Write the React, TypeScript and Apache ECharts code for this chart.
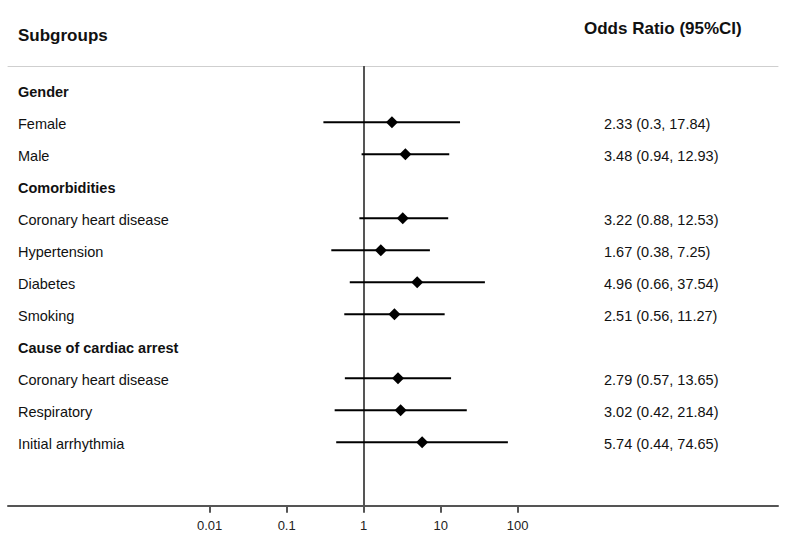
import React, { useEffect, useRef } from "react";
import * as echarts from "echarts";

const subgroups = [
  "Gender",
  "Female",
  "Male",
  "Comorbidities",
  "Coronary heart disease",
  "Hypertension",
  "Diabetes",
  "Smoking",
  "Cause of cardiac arrest",
  "Coronary heart disease",
  "Respiratory",
  "Initial arrhythmia",
];
const isHeader = [true, false, false, true, false, false, false, false, true, false, false, false];
const oddsRatio = [null, 2.33, 3.48, null, 3.22, 1.67, 4.96, 2.51, null, 2.79, 3.02, 5.74];
const lowerCI = [null, 0.3, 0.94, null, 0.88, 0.38, 0.66, 0.56, null, 0.57, 0.42, 0.44];
const upperCI = [null, 17.84, 12.93, null, 12.53, 7.25, 37.54, 11.27, null, 13.65, 21.84, 74.65];
const tickLabels = ["0.01", "0.1", "1", "10", "100"];
const referenceValue = 1;

const FONT = '"Liberation Sans", Arial, Helvetica, sans-serif';

export default function App() {
  const ref = useRef<HTMLDivElement>(null);
  useEffect(() => {
    if (!ref.current) return;
    const chart = echarts.init(ref.current, null, { renderer: "svg" });
    const rowIdx = subgroups.map((_, i) => i);
    const dataRows = rowIdx.filter((i) => oddsRatio[i] != null);
    const tickValues = tickLabels.map(Number);
    const orText = (i: number) =>
      oddsRatio[i] == null ? "" : `${oddsRatio[i]} (${lowerCI[i]}, ${upperCI[i]})`;

    const yMin = -0.76;
    const yMax = 12.98;

    chart.setOption({
      animation: false,
      backgroundColor: "#ffffff",
      textStyle: { fontFamily: FONT },
      grid: { left: 8, right: 12, top: 66, bottom: 39.3, containLabel: false },
      graphic: [
        {
          type: "text",
          x: 18,
          y: 35,
          style: {
            text: "Subgroups",
            fontFamily: FONT,
            fontSize: 17,
            fontWeight: "bold",
            fill: "#111",
            verticalAlign: "middle",
            align: "left",
          },
        },
        {
          type: "text",
          x: 584,
          y: 28,
          style: {
            text: "Odds Ratio (95%CI)",
            fontFamily: FONT,
            fontSize: 17,
            fontWeight: "bold",
            fill: "#111",
            verticalAlign: "middle",
            align: "left",
          },
        },
      ],
      xAxis: [
        {
          type: "log",
          logBase: 10,
          min: Math.pow(10, -4.619),
          max: Math.pow(10, 5.381),
          position: "bottom",
          splitLine: { show: false },
          axisLine: { show: true, onZero: false, lineStyle: { color: "#555", width: 2 } },
          axisTick: {
            show: true,
            inside: false,
            length: 7,
            customValues: tickValues,
            lineStyle: { color: "#555", width: 2 },
          },
          axisLabel: {
            show: true,
            customValues: tickValues,
            margin: 13,
            fontSize: 13,
            color: "#222",
            fontFamily: FONT,
            formatter: (v: number) => {
              const k = tickValues.findIndex((t) => Math.abs(Math.log10(t) - Math.log10(v)) < 1e-6);
              return k >= 0 ? tickLabels[k] : "";
            },
          },
        },
        {
          type: "value",
          position: "top",
          min: 0,
          max: 1,
          axisLine: { show: true, onZero: false, lineStyle: { color: "#cfcfcf", width: 1 } },
          axisTick: { show: false },
          axisLabel: { show: false },
          splitLine: { show: false },
        },
      ],
      yAxis: [
        {
          type: "value",
          inverse: true,
          min: yMin,
          max: yMax,
          position: "left",
          axisLine: { show: false, onZero: false },
          axisTick: { show: false },
          splitLine: { show: false },
          axisLabel: {
            show: true,
            inside: true,
            align: "left",
            margin: 10,
            customValues: rowIdx,
            padding: [4, 0, 0, 0],
            formatter: (v: number) => {
              const i = Math.round(v);
              return isHeader[i] ? `{b|${subgroups[i]}}` : `{n|${subgroups[i]}}`;
            },
            rich: {
              b: { fontFamily: FONT, fontSize: 14.5, fontWeight: "bold", color: "#111" },
              n: { fontFamily: FONT, fontSize: 14.5, color: "#111" },
            },
          },
        },
        {
          type: "value",
          inverse: true,
          min: yMin,
          max: yMax,
          position: "right",
          axisLine: { show: false, onZero: false },
          axisTick: { show: false },
          splitLine: { show: false },
          axisLabel: {
            show: true,
            inside: true,
            align: "left",
            margin: 174,
            customValues: dataRows,
            padding: [4, 0, 0, 0],
            formatter: (v: number) => `{n|${orText(Math.round(v))}}`,
            rich: {
              n: { fontFamily: FONT, fontSize: 14.5, color: "#111" },
            },
          },
        },
      ],
      series: [
        {
          type: "custom",
          xAxisIndex: 0,
          yAxisIndex: 0,
          encode: { x: [0, 1], y: 2 },
          data: dataRows.map((i) => [lowerCI[i], upperCI[i], i]),
          renderItem: (params: any, api: any) => {
            const p1 = api.coord([api.value(0), api.value(2)]);
            const p2 = api.coord([api.value(1), api.value(2)]);
            return {
              type: "line",
              shape: { x1: p1[0], y1: p1[1], x2: p2[0], y2: p2[1] },
              style: { stroke: "#000", lineWidth: 2 },
            };
          },
          z: 3,
        },
        {
          type: "scatter",
          xAxisIndex: 0,
          yAxisIndex: 0,
          symbol: "diamond",
          symbolSize: 12,
          itemStyle: { color: "#000", opacity: 1 },
          data: dataRows.map((i) => [oddsRatio[i], i]),
          z: 4,
          markLine: {
            silent: true,
            symbol: ["none", "none"],
            label: { show: false },
            lineStyle: { color: "#555", width: 2, type: "solid" },
            data: [{ xAxis: referenceValue }],
            z: 2,
          },
        },
      ],
    });
    return () => chart.dispose();
  }, []);

  return (
    <div
      ref={ref}
      style={{ position: "fixed", left: 0, top: 0, width: 790, height: 545, background: "#fff" }}
    />
  );
}
